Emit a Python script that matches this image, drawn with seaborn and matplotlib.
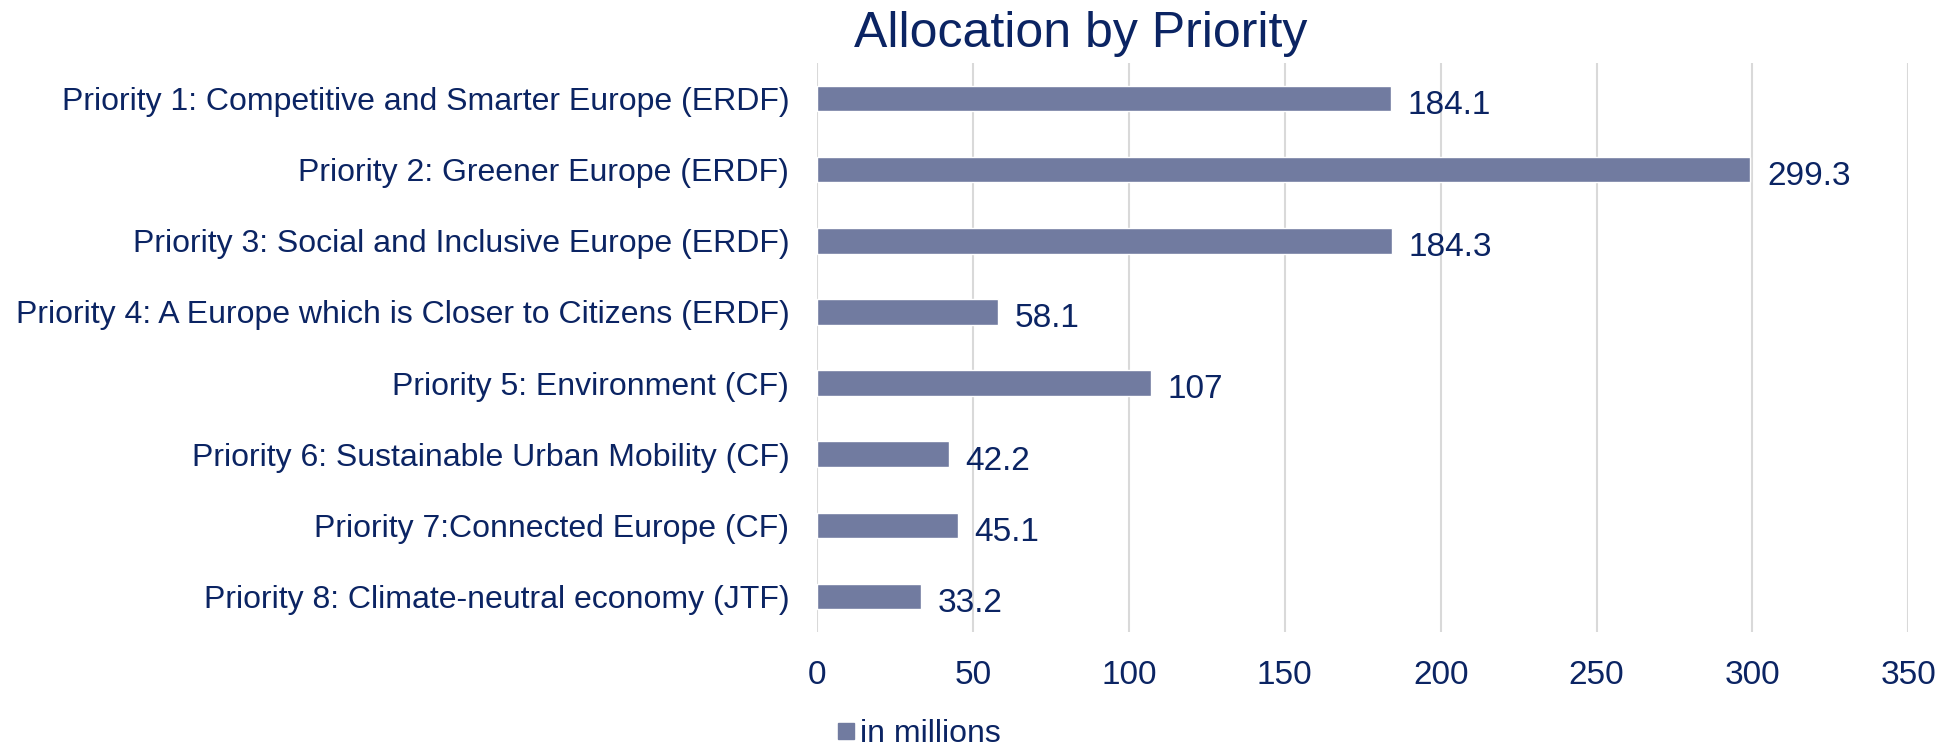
import numpy as np
import pandas as pd
import matplotlib.pyplot as plt
from matplotlib.lines import Line2D
import seaborn as sns

# Veriler
priorities = [
    "Priority 1: Competitive and Smarter Europe (ERDF)",
    "Priority 2: Greener Europe (ERDF)",
    "Priority 3: Social and Inclusive Europe (ERDF)",
    "Priority 4: A Europe which is Closer to Citizens (ERDF)",
    "Priority 5: Environment (CF)",
    "Priority 6: Sustainable Urban Mobility (CF)",
    "Priority 7:Connected Europe (CF)",
    "Priority 8: Climate-neutral economy (JTF)",
]
allocation = [184.1, 299.3, 184.3, 58.1, 107, 42.2, 45.1, 33.2]
value_labels = ["184.1", "299.3", "184.3", "58.1", "107", "42.2", "45.1", "33.2"]
series_name = "in millions"
x_ticks = [0, 50, 100, 150, 200, 250, 300, 350]

df = pd.DataFrame({"priority": priorities, "value": allocation, "series": series_name})

navy = "#0b2463"
bar_color = "#717ba0"

sns.set_style("white")
plt.rcParams["font.family"] = ["Liberation Sans", "DejaVu Sans"]

fig = plt.figure(figsize=(19.52, 7.48), dpi=100)
ax = fig.add_axes([0.4186, 0.155, 0.559, 0.761])

sns.barplot(data=df, y="priority", x="value", hue="series", orient="h",
            palette=[bar_color], width=0.36, ax=ax, saturation=1, legend=False)

# değer etiketleri (barın biraz altında)
labels = ax.bar_label(ax.containers[0], labels=value_labels, padding=12,
                      fontsize=24, color=navy)
for t in labels:
    t.xyann = (t.xyann[0], -5)

ax.set_xlim(0, 350)
ax.set_xticks(x_ticks)
ax.xaxis.grid(True, color="#d9d9d9", linewidth=1.5)
ax.set_axisbelow(True)
for s in ax.spines.values():
    s.set_visible(False)
ax.tick_params(axis="both", length=0, labelcolor=navy)
ax.tick_params(axis="x", pad=20, labelsize=24)
ax.tick_params(axis="y", pad=20, labelsize=23)
ax.set_xlabel("")
ax.set_ylabel("")

fig.text(0.5536, 0.955, "Allocation by Priority", ha="center", va="center",
         fontsize=36, color=navy)

handle = Line2D([], [], linestyle="none", marker="s", markersize=11,
                markerfacecolor=bar_color, markeredgecolor=bar_color)
fig.legend([handle], [series_name], loc="center", bbox_to_anchor=(0.471, 0.019),
           frameon=False, fontsize=23, handlelength=0.5,
           handletextpad=0.2, labelcolor=navy)

fig.savefig("out.png", dpi=100)
